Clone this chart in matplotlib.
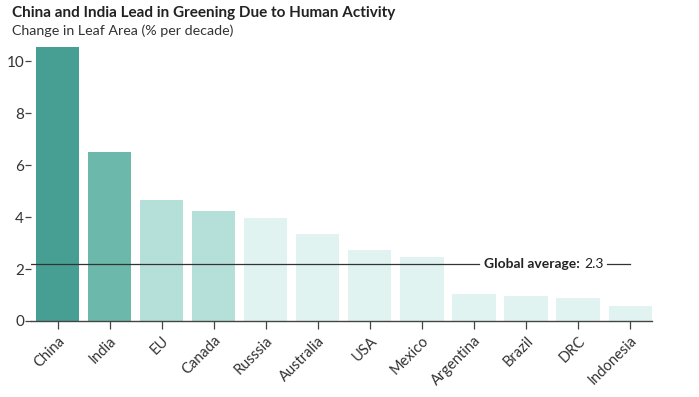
import numpy as np
import matplotlib.pyplot as plt

plt.rcParams['font.family'] = ['Lato', 'DejaVu Sans']

# Data
countries = ['China', 'India', 'EU', 'Canada', 'Russsia', 'Australia', 'USA',
             'Mexico', 'Argentina', 'Brazil', 'DRC', 'Indonesia']
leaf_change = [10.55, 6.5, 4.65, 4.25, 3.95, 3.35, 2.72, 2.45, 1.03, 0.95, 0.87, 0.57]
global_avg = 2.3
avg_line_level = 2.2
yticks = [0, 2, 4, 6, 8, 10]

colors = ['#479f94', '#6cb9ab', '#b5dfd9', '#b5dfd9'] + ['#e0f3f1'] * 8

fig = plt.figure(figsize=(6.99, 3.97), dpi=100)
ax = fig.add_axes([31 / 699, 76 / 397, 621 / 699, 274 / 397])

x = np.arange(len(countries))
ax.bar(x, leaf_change, width=0.83, color=colors, zorder=1)

ax.set_xlim(-0.51, len(countries) - 1 + 0.42)
ax.set_ylim(0, 10.55)

# global average line with label
ax.plot([-0.51, 8.1], [avg_line_level, avg_line_level], color='#333333', lw=0.9, zorder=3)
ax.plot([10.55, 11.0], [avg_line_level, avg_line_level], color='#333333', lw=0.9, zorder=3)
lab = ax.text(8.19, avg_line_level, 'Global average:', ha='left', va='center',
              fontsize=10, fontweight='bold', color='#222222', zorder=4)
ax.annotate(f'{global_avg}', xy=(1, 0.5), xycoords=lab, xytext=(3, 0),
            textcoords='offset points', ha='left', va='center',
            fontsize=10, color='#222222', zorder=4)

for s in ['top', 'right', 'left']:
    ax.spines[s].set_visible(False)
ax.spines['bottom'].set_color('#444444')
ax.spines['bottom'].set_linewidth(1.0)

ax.set_yticks(yticks)
ax.set_yticklabels([str(v) for v in yticks])
ax.tick_params(axis='y', length=4, width=0.9, color='#444444', labelsize=11,
               labelcolor='#333333', pad=1)
ax.set_xticks(x)
ax.set_xticklabels(countries, rotation=45, ha='right', rotation_mode='anchor')
ax.tick_params(axis='x', length=6, width=0.9, color='#444444', labelsize=10.5,
               labelcolor='#333333', pad=3)

fig.text(12 / 699, 1 - 13 / 397, 'China and India Lead in Greening Due to Human Activity',
         fontsize=11, fontweight='bold', color='#222222', va='center')
fig.text(12 / 699, 1 - 31 / 397, 'Change in Leaf Area (% per decade)',
         fontsize=10.3, color='#333333', va='center')

fig.savefig('out.png', dpi=100)
